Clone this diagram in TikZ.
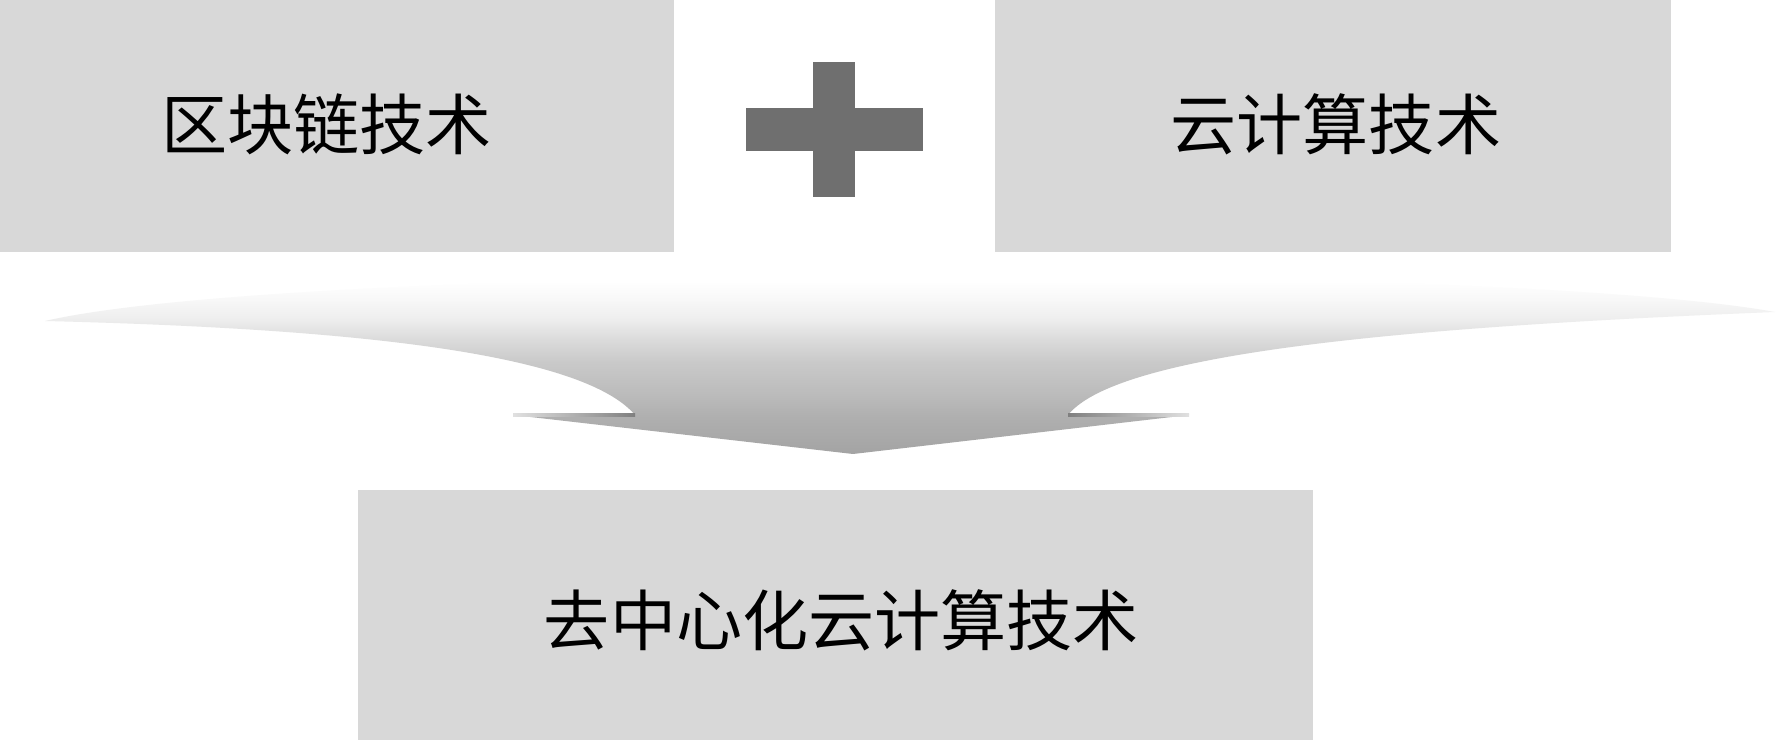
\documentclass[tikz,border=0pt]{standalone}
\usepackage{fontspec}
\newfontfamily\cjk{Noto Sans CJK SC}
\definecolor{boxgray}{HTML}{D8D8D8}
\definecolor{plusgray}{HTML}{6F6F6F}
\pgfdeclareverticalshading{funnelshade}{100bp}{%
  color(0bp)=(black!36);
  color(25bp)=(black!36);
  color(35bp)=(black!31);
  color(40bp)=(black!27);
  color(49bp)=(black!21);
  color(55bp)=(black!14);
  color(60bp)=(black!7);
  color(65bp)=(black!3);
  color(70bp)=(white);
  color(100bp)=(white)}
\tikzset{
  box/.style={rectangle, fill=boxgray, draw=none, inner sep=0pt, font=\cjk\fontsize{18.8pt}{19pt}\selectfont, text=black},
  plusbar/.style={fill=plusgray, draw=none},
}
\begin{document}
\begin{tikzpicture}[x=0.01cm,y=-0.01cm]
\useasboundingbox[fill=white] (0,0) rectangle (1784,740);
% top boxes
\node[box, anchor=north west, minimum width=6.95cm, minimum height=2.54cm] (block) at (-22,-3) {\raisebox{-0.04cm}{区块链技术}};
\node[box, anchor=north west, minimum width=6.76cm, minimum height=2.54cm] (cloud) at (994,-3) {\raisebox{-0.04cm}{\hspace*{0.06cm}云计算技术}};
% plus sign
\fill[plusbar] (746,108) rectangle (923,151);
\fill[plusbar] (813,62) rectangle (855,197);
% funnel arrow
\shade[shading=funnelshade]
  (45,321) .. controls (330,328) and (580,350) .. (635,415)
  -- (513,415) -- (853,454) -- (1189,415) -- (1068,415)
  .. controls (1120,350) and (1430,326) .. (1775,312)
  .. controls (1500,262) and (300,262) .. (45,321) -- cycle;
% darker wing edges
\shade[left color=black!12, right color=black!50] (513,414) rectangle (635,417);
\shade[left color=black!50, right color=black!12] (1068,414) rectangle (1189,417);
% bottom box
\node[box, anchor=north west, minimum width=9.55cm, minimum height=2.62cm] (result) at (357,489) {\hspace*{0.12cm}去中心化云计算技术};
\end{tikzpicture}
\end{document}
